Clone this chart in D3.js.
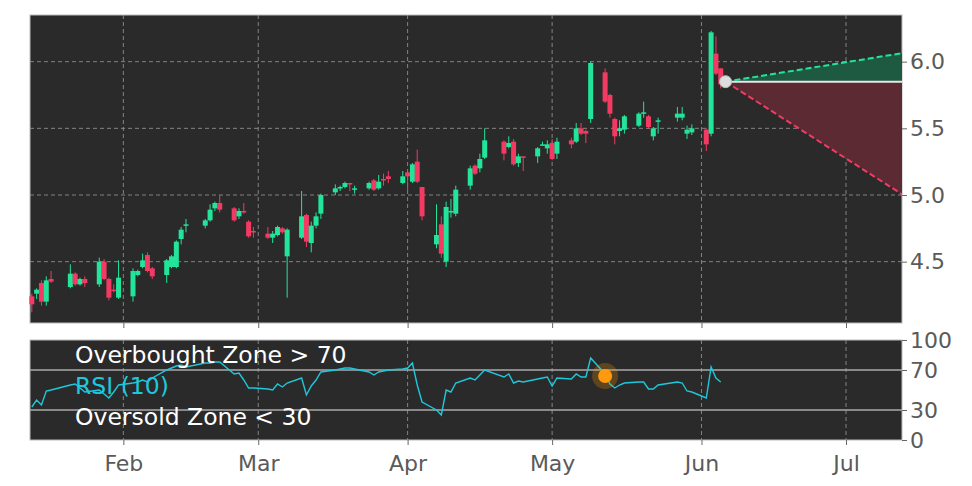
<!DOCTYPE html>
<html><head><meta charset="utf-8">
<script src="https://cdn.jsdelivr.net/npm/d3@7"></script>
<style>body{margin:0;background:#fff}svg{display:block}</style></head>
<body><svg id="c" width="972" height="486"></svg>
<script>
const dates = ["2025-01-13","2025-01-14","2025-01-15","2025-01-16","2025-01-17","2025-01-21","2025-01-22","2025-01-23","2025-01-24","2025-01-27","2025-01-28","2025-01-29","2025-01-30","2025-01-31","2025-02-03","2025-02-04","2025-02-05","2025-02-06","2025-02-07","2025-02-10","2025-02-11","2025-02-12","2025-02-13","2025-02-14","2025-02-18","2025-02-19","2025-02-20","2025-02-21","2025-02-24","2025-02-25","2025-02-26","2025-02-27","2025-02-28","2025-03-03","2025-03-04","2025-03-05","2025-03-06","2025-03-07","2025-03-10","2025-03-11","2025-03-12","2025-03-13","2025-03-14","2025-03-17","2025-03-18","2025-03-19","2025-03-20","2025-03-21","2025-03-24","2025-03-25","2025-03-26","2025-03-27","2025-03-28","2025-03-31","2025-04-01","2025-04-02","2025-04-03","2025-04-04","2025-04-07","2025-04-08","2025-04-09","2025-04-10","2025-04-11","2025-04-14","2025-04-15","2025-04-16","2025-04-17","2025-04-21","2025-04-22","2025-04-23","2025-04-24","2025-04-25","2025-04-28","2025-04-29","2025-04-30","2025-05-01","2025-05-02","2025-05-05","2025-05-06","2025-05-07","2025-05-08","2025-05-09","2025-05-12","2025-05-13","2025-05-14","2025-05-15","2025-05-16","2025-05-19","2025-05-20","2025-05-21","2025-05-22","2025-05-23","2025-05-27","2025-05-28","2025-05-29","2025-05-30","2025-06-02","2025-06-03","2025-06-04","2025-06-05"];
const open  = [4.24,4.26,4.34,4.20,4.37,4.31,4.41,4.33,4.37,4.33,4.50,4.37,4.29,4.23,4.24,4.40,4.46,4.55,4.45,4.40,4.46,4.46,4.67,4.77,4.77,4.81,4.90,4.94,4.90,4.84,4.88,4.80,4.73,4.71,4.68,4.70,4.75,4.54,4.68,4.85,4.64,4.77,4.86,5.02,5.05,5.06,5.09,5.05,5.05,5.11,5.05,5.12,5.14,5.09,5.17,5.10,5.25,5.06,4.63,4.78,4.50,4.88,4.86,5.07,5.22,5.20,5.28,5.40,5.36,5.40,5.24,5.29,5.29,5.38,5.35,5.39,5.31,5.41,5.40,5.50,5.48,5.57,5.92,5.75,5.57,5.48,5.49,5.52,5.61,5.59,5.44,5.56,5.58,5.58,5.46,5.47,5.49,5.46,6.06,5.95];
const close = [4.18,4.29,4.20,4.36,4.35,4.41,4.33,4.37,4.34,4.50,4.37,4.23,4.28,4.38,4.43,4.43,4.51,4.43,4.39,4.51,4.54,4.65,4.74,4.78,4.81,4.89,4.94,4.89,4.81,4.88,4.87,4.69,4.72,4.68,4.71,4.76,4.72,4.74,4.84,4.65,4.77,4.84,5.00,5.05,5.06,5.09,5.08,5.05,5.09,5.04,5.10,5.11,5.12,5.14,5.14,5.23,5.10,4.84,4.70,4.56,4.91,4.88,5.04,5.20,5.16,5.27,5.41,5.31,5.39,5.23,5.29,5.28,5.35,5.38,5.38,5.27,5.40,5.38,5.50,5.46,5.46,5.99,5.70,5.61,5.44,5.50,5.59,5.61,5.62,5.51,5.50,5.56,5.61,5.61,5.49,5.50,5.38,6.22,5.91,5.83];
const high  = [4.26,4.30,4.36,4.39,4.43,4.48,4.42,4.38,4.39,4.53,4.52,4.38,4.33,4.51,4.45,4.44,4.56,4.57,4.46,4.52,4.55,4.66,4.76,4.82,4.82,4.93,4.95,5.00,4.91,4.90,4.94,4.81,4.76,4.76,4.73,4.77,4.76,4.75,5.03,4.86,4.80,4.87,5.01,5.08,5.07,5.10,5.09,5.07,5.10,5.12,5.15,5.16,5.18,5.18,5.17,5.24,5.34,5.06,4.93,4.84,4.95,4.97,5.07,5.22,5.23,5.31,5.50,5.41,5.44,5.42,5.31,5.29,5.36,5.40,5.41,5.42,5.43,5.43,5.54,5.54,5.49,6.00,5.95,5.76,5.58,5.56,5.60,5.62,5.70,5.60,5.51,5.58,5.66,5.66,5.52,5.53,5.50,6.23,6.19,5.95];
const low   = [4.12,4.22,4.17,4.17,4.34,4.30,4.32,4.32,4.31,4.31,4.36,4.21,4.27,4.22,4.20,4.39,4.45,4.42,4.37,4.34,4.45,4.45,4.63,4.72,4.75,4.80,4.88,4.87,4.80,4.82,4.86,4.68,4.68,4.67,4.64,4.69,4.71,4.23,4.67,4.61,4.57,4.75,4.82,5.00,5.03,5.05,5.03,5.01,5.04,5.03,5.04,5.07,5.09,5.08,5.03,5.09,5.09,4.81,4.60,4.53,4.46,4.83,4.84,5.04,5.15,5.17,5.27,5.26,5.35,5.22,5.21,5.18,5.24,5.37,5.31,5.26,5.27,5.35,5.39,5.45,5.39,5.54,5.69,5.58,5.38,5.44,5.46,5.51,5.58,5.50,5.41,5.46,5.55,5.56,5.42,5.45,5.33,5.44,5.90,5.80];
const rsi   = [33,40,35,49,50,55,56,52,48,50,46,42,48,55,57,58,60,58,62,70,72,74,75,73,77,77,78,78,66,67,60,52,52,51,50,56,53,57,62,45,54,60,68,70,71,72,72,71,68,65,68,69,70,71,72,77,55,38,30,25,50,48,57,62,60,65,70,63,66,57,59,58,61,62,63,54,62,61,66,63,63,82,66,56,52,55,57,58,58,51,51,55,58,57,49,48,42,73,62,58];
const priceTicks = [4.5,5.0,5.5,6.0];
const rsiTicks = [0,30,70,100];
const monthTicks = ["2025-02-01","2025-03-01","2025-04-01","2025-05-01","2025-06-01","2025-07-01"];
const monthLabels = ["Feb","Mar","Apr","May","Jun","Jul"];
const pivotDate = "2025-06-06", pivotPrice = 5.85;
const endDate = "2025-07-12", upperTarget = 6.06, lowerTarget = 5.02;
const signalDate = "2025-05-12", signalRsi = 64;

const P = d3.timeParse("%Y-%m-%d");
const svg = d3.select("#c");
const L = 30, R = 902, T1 = 15, B1 = 323, T2 = 340, B2 = 440;
const x = d3.scaleTime().domain([P("2025-01-12"), P("2025-07-12")]).range([27, 899]);
const y = d3.scaleLinear().domain([4.04, 6.35]).range([B1, T1]);
const yr = d3.scaleLinear().domain([0, 100]).range([B2, T2]);
const G = "#22e59b", Rd = "#f23a63", grid = "#9a9a9a";

function panel(t, b) {
  svg.append("rect").attr("x", L).attr("y", t).attr("width", R - L).attr("height", b - t)
    .attr("fill", "#2a2a2a").attr("stroke", "#bbb").attr("stroke-width", 1);
  monthTicks.forEach(m => svg.append("line").attr("x1", x(P(m))).attr("x2", x(P(m)))
    .attr("y1", t).attr("y2", b).attr("stroke", grid).attr("stroke-dasharray", "4,3").attr("stroke-width", 0.8));
}
panel(T1, B1); panel(T2, B2);
priceTicks.forEach(v => svg.append("line").attr("x1", L).attr("x2", R).attr("y1", y(v)).attr("y2", y(v))
  .attr("stroke", grid).attr("stroke-dasharray", "4,3").attr("stroke-width", 0.8));

const ax = svg.append("g").attr("transform", `translate(${R},0)`).call(d3.axisRight(y).tickValues(priceTicks).tickFormat(d3.format(".1f")).tickSize(5));
const ax2 = svg.append("g").attr("transform", `translate(${R},0)`).call(d3.axisRight(yr).tickValues(rsiTicks).tickSize(5));
const axb = svg.append("g").attr("transform", `translate(0,${B2})`).call(d3.axisBottom(x).tickValues(monthTicks.map(P)).tickFormat((d, i) => monthLabels[i]).tickSize(5));
svg.append("g").attr("transform", `translate(0,${B1})`).call(d3.axisBottom(x).tickValues(monthTicks.map(P)).tickFormat("").tickSize(5));
svg.selectAll(".domain").remove();
svg.selectAll(".tick line").attr("stroke", "#666");
svg.selectAll(".tick text").attr("fill", "#5a5a5a").attr("font-family", "DejaVu Sans").attr("font-size", 22);
ax.selectAll("text").attr("x", 8); ax2.selectAll("text").attr("x", 8);
axb.selectAll("text").attr("dy", "1.05em");

const px = x(P(pivotDate)), ex = R;
const slope = (v) => y(pivotPrice) + (y(v) - y(pivotPrice)) * (ex - px) / (x(P(endDate)) - px);
const yu = slope(upperTarget), yl = slope(lowerTarget);
svg.append("path").attr("d", `M${px},${y(pivotPrice)}L${ex},${yu}L${ex},${y(pivotPrice)}Z`).attr("fill", "#1d5a41");
svg.append("path").attr("d", `M${px},${y(pivotPrice)}L${ex},${yl}L${ex},${y(pivotPrice)}Z`).attr("fill", "#5b2a33");
svg.append("line").attr("x1", px).attr("x2", ex).attr("y1", y(pivotPrice)).attr("y2", y(pivotPrice)).attr("stroke", "#e8e8e8").attr("stroke-width", 2);
svg.append("line").attr("x1", px).attr("x2", ex).attr("y1", y(pivotPrice)).attr("y2", yu).attr("stroke", G).attr("stroke-width", 2).attr("stroke-dasharray", "6,3");
svg.append("line").attr("x1", px).attr("x2", ex).attr("y1", y(pivotPrice)).attr("y2", yl).attr("stroke", Rd).attr("stroke-width", 2).attr("stroke-dasharray", "6,3");

const cg = svg.append("g");
dates.forEach((d, i) => {
  const cx = x(P(d)), col = close[i] >= open[i] ? G : Rd;
  cg.append("line").attr("x1", cx).attr("x2", cx).attr("y1", y(high[i])).attr("y2", y(low[i])).attr("stroke", col).attr("stroke-width", 1);
  const t = y(Math.max(open[i], close[i])), b = y(Math.min(open[i], close[i]));
  cg.append("rect").attr("x", cx - 2.5).attr("width", 5).attr("y", t).attr("height", Math.max(1.5, b - t)).attr("fill", col);
});
svg.append("circle").attr("cx", px).attr("cy", y(pivotPrice)).attr("r", 6).attr("fill", "#ddd").attr("stroke", "#bbb");

[70, 30].forEach(v => svg.append("line").attr("x1", L).attr("x2", R).attr("y1", yr(v)).attr("y2", yr(v)).attr("stroke", "#aaa").attr("stroke-width", 1.5));
svg.append("path").datum(rsi).attr("fill", "none").attr("stroke", "#1ec8dc").attr("stroke-width", 1.4)
  .attr("d", d3.line().x((v, i) => x(P(dates[i]))).y(v => yr(v)));
svg.append("circle").attr("cx", x(P(signalDate))).attr("cy", yr(signalRsi)).attr("r", 13).attr("fill", "#ff9900").attr("opacity", 0.25);
svg.append("circle").attr("cx", x(P(signalDate))).attr("cy", yr(signalRsi)).attr("r", 7).attr("fill", "#ff9a10");

const tg = svg.append("g").attr("font-family", "DejaVu Sans").attr("font-size", 23.5);
tg.append("text").attr("x", 75).attr("y", 363).attr("fill", "#fff").text("Overbought Zone > 70");
tg.append("text").attr("x", 75).attr("y", 394).attr("fill", "#1ec8dc").text("RSI (10)");
tg.append("text").attr("x", 75).attr("y", 425).attr("fill", "#fff").text("Oversold Zone < 30");
</script></body></html>
